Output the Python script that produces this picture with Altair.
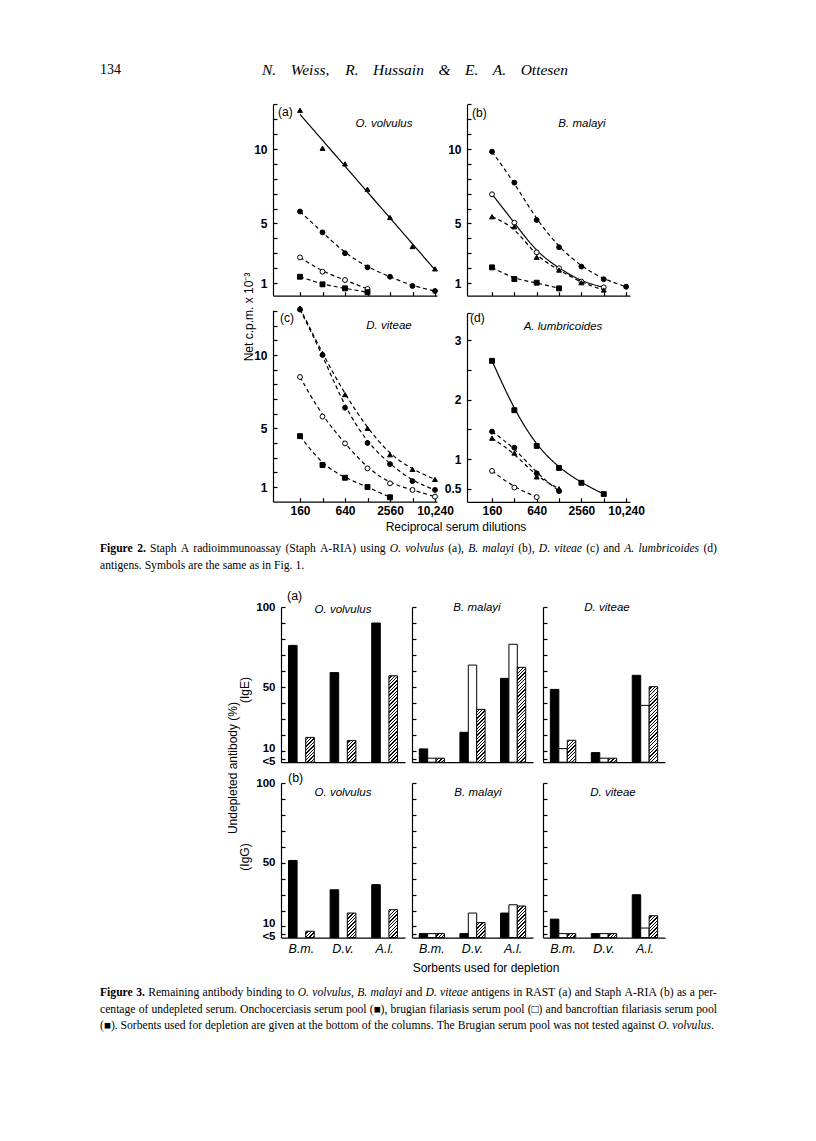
import altair as alt
import pandas as pd

W, H = 800, 1125
M = 8


def P(v):
    return v - M


# ---------------- Figure 2 data ----------------
DIL = [160, 320, 640, 1280, 2560, 5120, 10240]

a_tri = [12.6, 10.05, 9.0, 7.3, 5.4, 3.45, 1.95]
a_fc = [5.8, 4.4, 3.0, 2.05, 1.42, 0.8, 0.46]
a_oc = [2.72, 1.76, 1.2, 0.6]
a_sq = [1.42, 0.91, 0.64, 0.38]

b_fc = [9.82, 7.74, 5.23, 3.4, 2.1, 1.25, 0.75]
b_oc = [6.96, 5.05, 3.06, 1.99, 1.09, 0.71]
b_tri = [5.45, 4.78, 2.73, 1.87, 1.02, 0.53]
b_sq = [2.05, 1.27, 1.02, 0.64]

c_tri = [13.2, 10.1, 7.3, 5.0, 3.2, 2.2, 1.52]
c_fc = [13.1, 10.0, 6.4, 4.0, 2.56, 1.4, 0.8]
c_oc = [8.5, 5.8, 3.97, 2.27, 1.25, 0.8, 0.34]
c_sq = [4.47, 2.5, 1.63, 1.0, 0.3]

d_sq = [2.65, 1.82, 1.22, 0.85, 0.6, 0.41]
d_fc = [1.46, 1.19, 0.76, 0.46]
d_tri = [1.35, 1.1, 0.7, 0.5]
d_oc = [0.8, 0.52, 0.36]

# ---------------- Figure 3 data ----------------
SORB = ["B.m.", "D.v.", "A.l."]
POOLS = ["onch", "brug", "banc"]
LT5 = 5.5  # "<5"

ige_ov_onch = [76, 59, 90]
ige_ov_brug = [None, None, None]
ige_ov_banc = [18.5, 16.5, 57]
ige_bm_onch = [11.3, 21.7, 55.4]
ige_bm_brug = [LT5, 63.7, 76.7]
ige_bm_banc = [LT5, 36, 62.3]
ige_dv_onch = [48.5, 9, 57.3]
ige_dv_brug = [11.5, LT5, 38.5]
ige_dv_banc = [16.7, LT5, 50.2]

igg_ov_onch = [51.4, 33, 36.2]
igg_ov_brug = [None, None, None]
igg_ov_banc = [7, 18.4, 20.5]
igg_bm_onch = [LT5, LT5, 18.4]
igg_bm_brug = [LT5, 18.4, 23.6]
igg_bm_banc = [LT5, 12.4, 22.8]
igg_dv_onch = [14.6, LT5, 29.9]
igg_dv_brug = [LT5, LT5, 9]
igg_dv_banc = [LT5, LT5, 16.7]


def lab_expr(m):
    s = "''"
    for v, t in reversed(list(m.items())):
        s = f"datum.value == {v} ? '{t}' : {s}"
    return s


# ---------------- Figure 2 panels ----------------
FIG2 = [
    dict(xr=(273, 437), x160=300, ppd=22.5, ypx=(283, 149), yv=(1, 10), ydom=(0.15, 13),
         yticks=list(range(1, 14)), ylab={1: "1", 5: "5", 10: "10"}, xlab=False,
         series=[("tri", a_tri, "solid"), ("fc", a_fc, "dash"), ("oc", a_oc, "dash"), ("sq", a_sq, "dash")],
         straight="tri"),
    dict(xr=(467, 630), x160=492, ppd=22.35, ypx=(283, 149), yv=(1, 10), ydom=(0.15, 13),
         yticks=list(range(1, 14)), ylab={1: "1", 5: "5", 10: "10"}, xlab=False,
         series=[("fc", b_fc, "dash"), ("oc", b_oc, "solid"), ("tri", b_tri, "dash"), ("sq", b_sq, "dash")],
         straight=None),
    dict(xr=(273, 437), x160=300, ppd=22.5, ypx=(487, 355), yv=(1, 10), ydom=(0, 13.05),
         yticks=list(range(1, 14)), ylab={1: "1", 5: "5", 10: "10"}, xlab=True,
         series=[("tri", c_tri, "dash"), ("fc", c_fc, "dash"), ("oc", c_oc, "dash"), ("sq", c_sq, "dash")],
         straight=None),
    dict(xr=(467, 630), x160=492, ppd=22.35, ypx=(459, 340), yv=(1, 3), ydom=(0.28, 3.45),
         yticks=[0.5, 1, 1.5, 2, 2.5, 3, 3.45], ylab={0.5: "0.5", 1: "1", 2: "2", 3: "3"}, xlab=True,
         series=[("sq", d_sq, "solid"), ("fc", d_fc, "dash"), ("tri", d_tri, "dash"), ("oc", d_oc, "dash")],
         straight=None),
]


def fig2_panel(cfg):
    x0, x1 = cfg["xr"]
    lo = 160 * 2 ** ((x0 - cfg["x160"]) / cfg["ppd"])
    hi = 160 * 2 ** ((x1 - cfg["x160"]) / cfg["ppd"])
    (p0, p1), (v0, v1) = cfg["ypx"], cfg["yv"]
    ppu = (p0 - p1) / (v1 - v0)

    def pix(v):
        return p0 - (v - v0) * ppu

    yb, yt = pix(cfg["ydom"][0]), pix(cfg["ydom"][1])
    xs = alt.Scale(type="log", base=2, domain=[lo, hi], range=[P(x0), P(x1)], nice=False)
    ys = alt.Scale(type="linear", domain=list(cfg["ydom"]), range=[P(yb), P(yt)], nice=False, zero=False)
    xax = dict(orient="top", offset=-P(yb), values=DIL, tickSize=4, labelPadding=-8,
               labelBaseline="top", title=None, grid=False, labelFlush=False, labelOverlap=False)
    if cfg["xlab"]:
        xax["labelExpr"] = lab_expr({160: "160", 640: "640", 2560: "2560", 10240: "10,240"})
    else:
        xax["labels"] = False
    yax = dict(orient="right", offset=P(x0) - W, values=cfg["yticks"], tickSize=4, labelPadding=-10,
               labelAlign="right", labelBaseline="middle", title=None, grid=False,
               labelFlush=False, labelOverlap=False, labelExpr=lab_expr(cfg["ylab"]))
    X = alt.X("dil:Q", scale=xs, axis=alt.Axis(**xax))
    Y = alt.Y("val:Q", scale=ys, axis=alt.Axis(**yax))

    rows = []
    for ser, vals, sty in cfg["series"]:
        for d, v in zip(DIL, vals):
            rows.append(dict(dil=d, val=v, ser=ser, sty=sty))
    df = pd.DataFrame(rows)
    st = cfg["straight"]
    layers = []
    ldf = df[df.ser != st] if st else df
    layers.append(
        alt.Chart(ldf).mark_line(interpolate="basis", color="black", strokeWidth=1.2).encode(
            x=X, y=Y, detail="ser:N",
            strokeDash=alt.StrokeDash("sty:N", scale=alt.Scale(domain=["solid", "dash"], range=[[1, 0], [4, 3]]),
                                      legend=None)))
    if st:
        layers.append(
            alt.Chart(df[df.ser == st]).transform_regression("dil", "val", method="log")
            .mark_line(color="black", strokeWidth=1.2).encode(x=X, y=Y))
    layers.append(
        alt.Chart(df).mark_point(filled=True, size=24, stroke="black", strokeWidth=1, opacity=1).encode(
            x=X, y=Y,
            shape=alt.Shape("ser:N", scale=alt.Scale(domain=["tri", "fc", "oc", "sq"],
                                                     range=["triangle-up", "circle", "circle", "square"]),
                            legend=None),
            fill=alt.Fill("ser:N", scale=alt.Scale(domain=["tri", "fc", "oc", "sq"],
                                                   range=["black", "black", "white", "black"]), legend=None)))
    return alt.layer(*layers)


# ---------------- Figure 3 panels ----------------
ROW_TOP = (762.2, 607)
ROW_BOT = (937.6, 783)
FIG3_X = [(281, 405), (412, 533), (543, 665)]


def hatch(wb, hb, period=3.4, thick=1.3):
    hb = max(hb, 1.0)
    s = max(1.0, (wb + hb) * wb / (wb ** 2 + hb ** 2))
    k = wb / (s * (wb ** 2 + hb ** 2))
    stops = [{"offset": 0, "color": "white"}]
    d = period * 0.6
    total = wb + hb
    while d < total:
        o0 = round(min(1.0, d * k), 5)
        o1 = round(min(1.0, (d + thick) * k), 5)
        stops += [{"offset": o0, "color": "white"}, {"offset": o0, "color": "black"},
                  {"offset": o1, "color": "black"}, {"offset": o1, "color": "white"}]
        d += period
    return {"gradient": "linear", "x1": 0, "y1": 0, "x2": s, "y2": s * hb / wb, "stops": stops}


def fig3_panel(xr, row, onch, brug, banc, first, bottom):
    x0, x1 = xr
    ybase, y100 = row
    ppu = (ybase - y100) / 97.0
    PI, PO = 0.38, 0.18
    step = (x1 - x0) / (3 - PI + 2 * PO)
    wb = step * (1 - PI) / 3
    xs = alt.Scale(type="band", domain=SORB, range=[P(x0), P(x1)], paddingInner=PI, paddingOuter=PO)
    ys = alt.Scale(type="linear", domain=[3, 100], range=[P(ybase), P(y100)], nice=False, zero=False)
    os_ = alt.Scale(domain=POOLS, paddingInner=0, paddingOuter=0)
    xax = dict(orient="bottom", offset=P(ybase) - H, ticks=False, title=None, grid=False)
    if bottom:
        xax.update(labelFont="Liberation Sans", labelFontStyle="italic", labelFontWeight="normal",
                   labelFontSize=12.5, labelPadding=5, labelAngle=0)
    else:
        xax["labels"] = False
    yax = dict(orient="right", offset=P(x0) - W, values=[5] + list(range(10, 101, 10)), tickSize=4,
               labelPadding=-10, labelAlign="right", labelBaseline="middle", title=None, grid=False,
               labelFlush=False, labelOverlap=False, labelFontSize=11.5)
    if first:
        yax["labelExpr"] = lab_expr({100: "100", 50: "50", 10: "10", 5: "<5"})
        yax["labelOffset"] = {"condition": [{"test": "datum.value == 10", "value": -2.5},
                                            {"test": "datum.value == 5", "value": 2.5}],
                              "value": 0}
    else:
        yax["labels"] = False
    enc = dict(x=alt.X("sorb:N", scale=xs, axis=alt.Axis(**xax)),
               xOffset=alt.XOffset("pool:N", scale=os_),
               y=alt.Y("val:Q", scale=ys, axis=alt.Axis(**yax)),
               y2=alt.datum(3))

    def rows(vals, pool):
        return [dict(sorb=s, pool=pool, val=v) for s, v in zip(SORB, vals) if v is not None]

    layers = [alt.Chart(pd.DataFrame(rows(onch, "onch"))).mark_bar(fill="black", stroke="black",
                                                                   strokeWidth=1).encode(**enc)]
    br = rows(brug, "brug")
    if br:
        layers.append(alt.Chart(pd.DataFrame(br)).mark_bar(fill="white", stroke="black",
                                                           strokeWidth=1).encode(**enc))
    for r in rows(banc, "banc"):
        layers.append(alt.Chart(pd.DataFrame([r])).mark_bar(fill=hatch(wb, (r["val"] - 3) * ppu),
                                                            stroke="black", strokeWidth=1).encode(**enc))
    return alt.layer(*layers)


# ---------------- Text ----------------
def _parse(s):
    return {tok[0]: int(tok[1:]) for tok in s.split()}


_REG = _parse("A722 B667 C667 D722 E611 F556 G722 H722 I333 J389 K722 L611 M889 N722 O722 P556 Q722 "
              "R667 S556 T611 U722 V722 W944 X722 Y722 Z611 a444 b500 c444 d500 e444 f333 g500 h500 "
              "i278 j278 k500 l278 m778 n500 o500 p500 q500 r333 s389 t278 u500 v500 w722 x500 y500 "
              "z444 (333 )333 ,250 -333 .250 :278 ;278 &778 ■600 □600")
_ITA = _parse("A611 B611 C667 D722 E611 F611 G722 H722 I333 J444 K667 L556 M833 N667 O722 P611 Q722 "
              "R611 S500 T556 U722 V611 W833 X611 Y556 Z556 a500 b500 c444 d500 e444 f278 g500 h500 "
              "i278 j278 k444 l278 m722 n500 o500 p500 q500 r389 s389 t278 u500 v444 w667 x444 y444 "
              "z389 (333 )333 ,250 -333 .250 &778")
_BLD = _parse("F611 i278 g500 u556 r444 e444 .250")


def tw(text, style, fs):
    tab = {"n": _REG, "i": _ITA, "b": _BLD}[style]
    tot = 0
    for ch in text:
        if ch == " ":
            tot += 250
        elif ch.isdigit():
            tot += 500
        else:
            tot += tab.get(ch, _REG.get(ch, 500))
    return tot * fs / 1000.0


items = []


def serif_line(segs, x0, y, fs, target=None):
    words = [[]]
    for text, st in segs:
        parts = text.split(" ")
        for i, part in enumerate(parts):
            if i > 0:
                words.append([])
            if part:
                words[-1].append((part, st))
    words = [w for w in words if w]
    widths = [sum(tw(t, s, fs) for t, s in w) for w in words]
    space = 0.25 * fs
    natural = sum(widths) + space * (len(words) - 1)
    if target is not None and len(words) > 1:
        space += (target - natural) / (len(words) - 1)
    x = x0
    for w, wd in zip(words, widths):
        cx = x
        for t, s in w:
            items.append(dict(x=P(cx), y=P(y), text=t, font="Liberation Serif", size=fs,
                              fstyle="italic" if s == "i" else "normal",
                              weight="bold" if s == "b" else "normal", align="left", angle=0))
            cx += tw(t, s, fs)
        x += wd + space


def sans(text, x, y, size=12, fstyle="normal", align="center", angle=0):
    items.append(dict(x=P(x), y=P(y), text=text, font="Liberation Sans", size=size, fstyle=fstyle,
                      weight="normal", align=align, angle=angle))


F3L1 = [("Figure 3.", "b"), (" Remaining antibody binding to ", "n"), ("O. volvulus", "i"), (", ", "n"),
        ("B. malayi", "i"), (" and ", "n"), ("D. viteae", "i"),
        (" antigens in RAST (a) and Staph A-RIA (b) as a per-", "n")]
F3L2 = [("centage of undepleted serum. Onchocerciasis serum pool (■), brugian filariasis serum pool (□) "
         "and bancroftian filariasis serum pool", "n")]
F3L3 = [("(■). Sorbents used for depletion are given at the bottom of the columns. The Brugian serum pool "
         "was not tested against ", "n"), ("O. volvulus", "i"), (".", "n")]
F2L1 = [("Figure 2.", "b"), (" Staph A radioimmunoassay (Staph A-RIA) using ", "n"), ("O. volvulus", "i"),
        (" (a), ", "n"), ("B. malayi", "i"), (" (b), ", "n"), ("D. viteae", "i"), (" (c) and ", "n"),
        ("A. lumbricoides", "i"), (" (d)", "n")]
F2L2 = [("antigens. Symbols are the same as in Fig. 1.", "n")]

# font size from the natural last line of the Figure 3 caption
_u = sum(tw(t, s, 1000) for t, s in F3L3) / 1000.0
CFS = max(10.5, min(12.5, 614 / _u))

serif_line([("134", "n")], 100, 70, 14)
serif_line([("N. Weiss, R. Hussain & E. A. Ottesen", "i")], 262, 70, 15.5, target=306)
serif_line(F2L1, 100, 549, CFS, target=617)
serif_line(F2L2, 100, 566, CFS)
serif_line(F3L1, 100, 993, CFS, target=617)
serif_line(F3L2, 100, 1010, CFS, target=617)
serif_line(F3L3, 100, 1026, CFS, target=614)

# Figure 2 labels
sans("(a)", 278, 112, 12, align="left")
sans("(b)", 472, 113, 12, align="left")
sans("(c)", 280, 318, 12, align="left")
sans("(d)", 470, 318, 12, align="left")
sans("O. volvulus", 384, 124, 11.5, "italic")
sans("B. malayi", 582, 124, 11.5, "italic")
sans("D. viteae", 389, 326, 11.5, "italic")
sans("A. lumbricoides", 563, 327, 11.5, "italic")
sans("Net c.p.m.   x 10⁻³", 249, 317, 12, angle=270)
sans("Reciprocal serum dilutions", 456, 527, 12)
# Figure 3 labels
sans("(a)", 287, 596, 12.5, align="left")
sans("(b)", 288, 778, 12.5, align="left")
for t, x, y in [("O. volvulus", 343, 610), ("B. malayi", 477, 608), ("D. viteae", 607, 608),
                ("O. volvulus", 343, 793), ("B. malayi", 478, 793), ("D. viteae", 613, 793)]:
    sans(t, x, y, 11.5, "italic")
sans("Undepleted antibody (%)", 233, 768, 12, angle=270)
sans("(IgE)", 245, 690, 12, angle=270)
sans("(IgG)", 245, 857, 12, angle=270)
sans("Sorbents  used  for  depletion", 486, 968, 12)


def text_layers(its):
    groups = {}
    for it in its:
        key = (it["font"], it["size"], it["fstyle"], it["weight"], it["align"], it["angle"])
        groups.setdefault(key, []).append({"x": it["x"], "y": it["y"], "text": it["text"]})
    out = []
    for (font, size, fstyle, weight, align, angle), rows in groups.items():
        out.append(alt.Chart(pd.DataFrame(rows)).mark_text(
            font=font, fontSize=size, fontStyle=fstyle, fontWeight=weight, align=align,
            baseline="middle", angle=angle, color="black").encode(
            x=alt.X("x:Q", scale=None, axis=None), y=alt.Y("y:Q", scale=None, axis=None), text="text:N"))
    return out


panels = [fig2_panel(c) for c in FIG2]
panels += [
    fig3_panel(FIG3_X[0], ROW_TOP, ige_ov_onch, ige_ov_brug, ige_ov_banc, True, False),
    fig3_panel(FIG3_X[1], ROW_TOP, ige_bm_onch, ige_bm_brug, ige_bm_banc, False, False),
    fig3_panel(FIG3_X[2], ROW_TOP, ige_dv_onch, ige_dv_brug, ige_dv_banc, False, False),
    fig3_panel(FIG3_X[0], ROW_BOT, igg_ov_onch, igg_ov_brug, igg_ov_banc, True, True),
    fig3_panel(FIG3_X[1], ROW_BOT, igg_bm_onch, igg_bm_brug, igg_bm_banc, False, True),
    fig3_panel(FIG3_X[2], ROW_BOT, igg_dv_onch, igg_dv_brug, igg_dv_banc, False, True),
]

chart = (
    alt.layer(*panels, *text_layers(items))
    .resolve_scale(x="independent", y="independent", xOffset="independent")
    .properties(width=W, height=H, padding=0, autosize="none", background="white")
    .configure_view(stroke=None)
    .configure_axis(domainColor="black", tickColor="black", labelColor="black", labelFont="Liberation Sans",
                    labelFontSize=12, labelFontWeight="bold", domainWidth=1.2, tickWidth=1.2)
)

chart.save("out.html", embed_options={"renderer": "svg", "actions": False})
